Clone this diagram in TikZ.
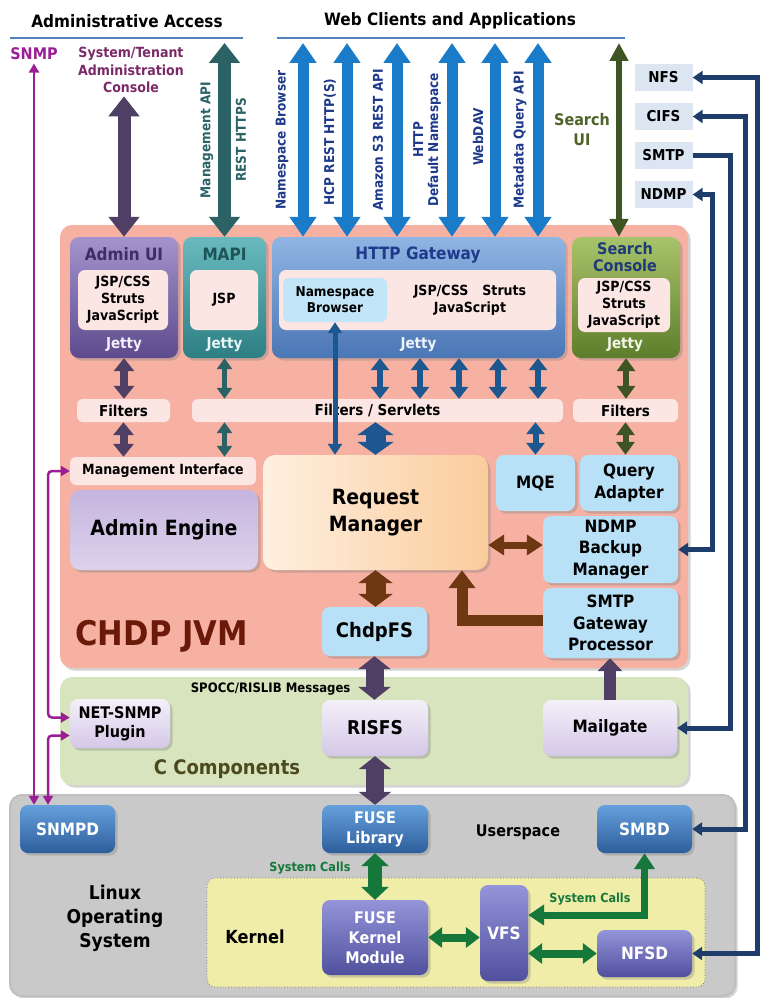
\documentclass[tikz,border=0pt]{standalone}
\usepackage{fontspec}
\setmainfont{DejaVu Sans}[FakeStretch=0.9]
\usepackage{tikz}
\usetikzlibrary{arrows.meta}
\usetikzlibrary{shadows}
\usetikzlibrary{positioning}

\definecolor{jvmfill}{HTML}{F6B1A3}
\definecolor{jvmtext}{HTML}{6B1A0A}
\definecolor{ccfill}{HTML}{D7E4BD}
\definecolor{cctext}{HTML}{4A4A1E}
\definecolor{osfill}{HTML}{C9C9C9}
\definecolor{kernfill}{HTML}{F0EDA9}
\definecolor{pinkfill}{HTML}{FCE6E4}
\definecolor{skyfill}{HTML}{B8E1F7}
\definecolor{nsfill}{HTML}{C2E6F8}
\definecolor{protofill}{HTML}{DCE6F2}
\definecolor{headline}{HTML}{4F81BD}
\definecolor{admpurple}{HTML}{4F3F64}
\definecolor{mapiteal}{HTML}{2A6266}
\definecolor{webblue}{HTML}{1A7CC9}
\definecolor{weblabel}{HTML}{1F3A8A}
\definecolor{searchgreen}{HTML}{3F5423}
\definecolor{searchlabel}{HTML}{4F6228}
\definecolor{gwnavy}{HTML}{1C5790}
\definecolor{rmbrown}{HTML}{6E3812}
\definecolor{protonavy}{HTML}{1F3D6B}
\definecolor{sysgreen}{HTML}{15773A}
\definecolor{snmppurple}{HTML}{9A1E96}
\definecolor{consoletext}{HTML}{7A2A68}
\definecolor{admintop}{HTML}{A493CC}
\definecolor{adminbottom}{HTML}{5D4B8E}
\definecolor{admintitle}{HTML}{3D2F66}
\definecolor{mapitop}{HTML}{68BABE}
\definecolor{mapibottom}{HTML}{2E7F84}
\definecolor{mapititle}{HTML}{1D5457}
\definecolor{httptop}{HTML}{90B5E3}
\definecolor{httpbottom}{HTML}{4A76B5}
\definecolor{httptitle}{HTML}{1F3A8C}
\definecolor{searchtop}{HTML}{A8C46A}
\definecolor{searchbottom}{HTML}{5E7D2B}
\definecolor{searchtitle}{HTML}{1F3A78}
\definecolor{enginetop}{HTML}{C6B5DE}
\definecolor{enginebottom}{HTML}{DCD2EC}
\definecolor{reqlight}{HTML}{FEF0E0}
\definecolor{reqdark}{HTML}{FACC9C}
\definecolor{lilatop}{HTML}{F4F0F9}
\definecolor{lilabottom}{HTML}{D4C8E7}
\definecolor{usertop}{HTML}{64A0DC}
\definecolor{userbottom}{HTML}{2E5E9C}
\definecolor{kerntop}{HTML}{9494DA}
\definecolor{kernbottom}{HTML}{50509E}

\newcommand{\bsize}[2]{\fontsize{#1}{#2}\selectfont\bfseries}

\tikzstyle{headtext} = [font=\bsize{17}{20}]
\tikzstyle{vlabel} = [rotate=90, align=center, font=\bsize{13.5}{15}]
\tikzstyle{bevel} = [drop shadow={shadow xshift=2.5pt, shadow yshift=-2.5pt, opacity=.35}]
\tikzstyle{layer} = [rectangle, rounded corners=12pt, inner sep=0pt, bevel]
\tikzstyle{jettybox} = [rectangle, rounded corners=9pt, inner sep=0pt, bevel]
\tikzstyle{boxtitle} = [font=\bsize{17}{17}, align=center]
\tikzstyle{jettytext} = [font=\bsize{15}{17}]
\tikzstyle{innerbox} = [rectangle, rounded corners=7pt, fill=pinkfill, inner sep=0pt, align=center, font=\bsize{14}{17}]
\tikzstyle{filterbar} = [rectangle, rounded corners=6pt, fill=pinkfill, inner sep=0pt, font=\bsize{15}{17}]
\tikzstyle{skybox} = [rectangle, rounded corners=8pt, fill=skyfill, inner sep=0pt, align=center, font=\bsize{17}{21.5}, bevel]
\tikzstyle{lilabox} = [rectangle, rounded corners=8pt, top color=lilatop, bottom color=lilabottom, inner sep=0pt, align=center, font=\bsize{17}{19}, bevel]
\tikzstyle{userbox} = [rectangle, rounded corners=8pt, top color=usertop, bottom color=userbottom, text=white, inner sep=0pt, align=center, font=\bsize{16}{20}, bevel]
\tikzstyle{kernbox} = [rectangle, rounded corners=8pt, top color=kerntop, bottom color=kernbottom, text=white, inner sep=0pt, align=center, font=\bsize{16}{20}, bevel]
\tikzstyle{protobox} = [rectangle, fill=protofill, minimum width=58pt, minimum height=27pt, font=\bsize{15}{17}]
\tikzstyle{protoboth} = [protonavy, line width=5pt, {Triangle[width=13pt,length=10pt]}-{Triangle[width=13pt,length=10pt]}]
\tikzstyle{protoone} = [protonavy, line width=5pt, -{Triangle[width=13pt,length=10pt]}]
\tikzstyle{snmpline} = [snmppurple, line width=2.5pt, rounded corners=4pt, {Triangle[width=10pt,length=9pt]}-{Triangle[width=10pt,length=9pt]}]
\tikzset{
  dbl/.style n args={3}{line width=#1, {Triangle[width=#2,length=#3]}-{Triangle[width=#2,length=#3]}},
  sgl/.style n args={3}{line width=#1, -{Triangle[width=#2,length=#3]}}
}

\begin{document}
\begin{tikzpicture}[x=1pt, y=-1pt, node distance=39pt]
    \useasboundingbox (0,0) rectangle (760,998);

    % layers
    \node (jvm) [layer, fill=jvmfill, minimum width=628pt, minimum height=443pt] at (374,446.5) {};
    \node (ccomp) [layer, fill=ccfill, minimum width=628pt, minimum height=108pt] at (374,731) {};
    \node (linux) [layer, fill=osfill, draw=black!25, line width=2pt, minimum width=725pt, minimum height=201pt] at (372.5,895.5) {};
    \node (kernel) [rectangle, rounded corners=8pt, fill=kernfill, draw=black!55, dotted, line width=0.8pt, minimum width=498pt, minimum height=109pt] at (456,932.5) {};
    \node (jvmlabel) [font=\bsize{34}{36}, text=jvmtext, anchor=west] at (72,636) {CHDP JVM};
    \node (cclabel) [font=\bsize{20}{22}, text=cctext] at (227,769) {C Components};
    \node (oslabel) [font=\bsize{19}{24}, align=center] at (115,918) {Linux\\Operating\\System};
    \node (userspace) [font=\bsize{16}{18}] at (518,832) {Userspace};
    \node (kernlabel) [font=\bsize{18}{20}] at (255,937) {Kernel};

    % headings
    \node (admaccess) [headtext] at (127,21) {Administrative Access};
    \node (webclients) [headtext] at (450,21) {Web Clients and Applications};
    \draw [headline, line width=2pt] (10,38) -- (243,38);
    \draw [headline, line width=2pt] (277,38) -- (625,38);
    \node (snmp) [font=\bsize{16}{18}, text=snmppurple] at (34,54) {SNMP};
    \node (console) [font=\bsize{14}{17.5}, text=consoletext, align=center] at (131,70) {System/Tenant\\Administration\\Console};
    \node (searchui) [font=\bsize{16}{20}, text=searchlabel, align=center] at (582,130) {Search\\UI};

    % protocol boxes
    \node (nfs) [protobox] at (663.5,77.5) {NFS};
    \node (cifs) [protobox, below of=nfs] {CIFS};
    \node (smtp) [protobox, below of=cifs] {SMTP};
    \node (ndmp) [protobox, below of=smtp] {NDMP};

    % jetty containers
    \node (adminui) [jettybox, top color=admintop, bottom color=adminbottom, minimum width=108pt, minimum height=121pt] at (124,297.5) {};
    \node (adminuititle) [boxtitle, text=admintitle] at (124,254) {Admin UI};
    \node (admininner) [innerbox, minimum width=90pt, minimum height=60pt] at (123,300) {JSP/CSS\\Struts\\JavaScript};
    \node (adminjetty) [jettytext, text=white!85!admintop] at (124,345) {Jetty};

    \node (mapi) [jettybox, top color=mapitop, bottom color=mapibottom, minimum width=83pt, minimum height=121pt] at (224.5,297.5) {};
    \node (mapititle) [boxtitle, text=mapititle] at (224.5,254) {MAPI};
    \node (mapiinner) [innerbox, minimum width=68pt, minimum height=60pt] at (224,300) {JSP};
    \node (mapijetty) [jettytext, text=white!85!mapitop] at (224.5,345) {Jetty};

    \node (http) [jettybox, top color=httptop, bottom color=httpbottom, minimum width=293pt, minimum height=121pt] at (418.5,297.5) {};
    \node (httpgwtitle) [boxtitle, text=httptitle] at (418,255) {HTTP Gateway};
    \node (httpinner) [innerbox, minimum width=277pt, minimum height=60pt] at (417.5,300) {};
    \node (nsbrowser) [rectangle, rounded corners=6pt, fill=nsfill, inner sep=0pt, minimum width=104pt, minimum height=44pt, align=center, font=\bsize{13.5}{16}] at (335,300) {Namespace\\Browser};
    \node (httplibs) [font=\bsize{14}{17}, align=center] at (470,300) {JSP/CSS\quad Struts\\JavaScript};
    \node (httpjetty) [jettytext, text=white!85!httptop] at (418.5,345) {Jetty};

    \node (search) [jettybox, top color=searchtop, bottom color=searchbottom, minimum width=108pt, minimum height=121pt] at (626,297.5) {};
    \node (searchctitle) [font=\bsize{16}{17}, align=center, text=searchtitle] at (625,257) {Search\\Console};
    \node (searchinner) [innerbox, minimum width=92pt, minimum height=54pt] at (624,305) {JSP/CSS\\Struts\\JavaScript};
    \node (searchjetty) [jettytext, text=white!85!searchtop] at (625,345) {Jetty};

    % filters
    \node (filtadmin) [filterbar, minimum width=93pt, minimum height=23pt] at (123.5,410.5) {Filters};
    \node (filtservlet) [filterbar, minimum width=371pt, minimum height=23pt] at (377.5,410.5) {Filters / Servlets};
    \node (filtsearch) [filterbar, minimum width=105pt, minimum height=23pt] at (625.5,410.5) {Filters};

    % jvm components
    \node (mgmt) [filterbar, font=\bsize{14}{16}, minimum width=186pt, minimum height=28pt] at (163,471) {Management Interface};
    \node (adminengine) [rectangle, rounded corners=10pt, top color=enginetop, bottom color=enginebottom, inner sep=0pt, minimum width=188pt, minimum height=80pt, font=\bsize{21}{24}, bevel] at (164,530) {Admin Engine};
    \node (reqmgr) [rectangle, rounded corners=12pt, left color=reqlight, right color=reqdark, inner sep=0pt, minimum width=225pt, minimum height=115pt, align=center, font=\bsize{21}{27}, bevel] at (375.5,512.5) {Request\\Manager};
    \node (mqe) [skybox, minimum width=79pt, minimum height=56pt] at (535.5,483) {MQE};
    \node (qadapter) [skybox, minimum width=98pt, minimum height=56pt] at (629,483) {Query\\Adapter};
    \node (ndmpbm) [skybox, minimum width=135pt, minimum height=67pt] at (610.5,549.5) {NDMP\\Backup\\Manager};
    \node (smtpgw) [skybox, minimum width=135pt, minimum height=70pt] at (610.5,623) {SMTP\\Gateway\\Processor};
    \node (chdpfs) [skybox, font=\bsize{20}{22}, minimum width=105pt, minimum height=49pt] at (374.5,631.5) {ChdpFS};

    % c components
    \node (netsnmp) [lilabox, font=\bsize{16}{19}, minimum width=100pt, minimum height=49pt] at (120,723.5) {NET-SNMP\\Plugin};
    \node (risfs) [lilabox, font=\bsize{19}{21}, minimum width=106pt, minimum height=56pt] at (375,728) {RISFS};
    \node (mailgate) [lilabox, minimum width=134pt, minimum height=56pt] at (610,728) {Mailgate};
    \node (spocc) [font=\bsize{13}{15}, anchor=east] at (354,689) {SPOCC/RISLIB Messages};

    % linux
    \node (snmpd) [userbox, font=\bsize{17}{20}, minimum width=95pt, minimum height=48pt] at (67.5,829) {SNMPD};
    \node (fuselib) [userbox, minimum width=106pt, minimum height=48pt] at (375,829) {FUSE\\Library};
    \node (smbd) [userbox, font=\bsize{17}{20}, minimum width=95pt, minimum height=48pt] at (644.5,829) {SMBD};
    \node (fusekm) [kernbox, minimum width=106pt, minimum height=75pt] at (375,937.5) {FUSE\\Kernel\\Module};
    \node (vfs) [kernbox, font=\bsize{17}{20}, minimum width=48pt, minimum height=96pt] at (504,933) {VFS};
    \node (nfsd) [kernbox, font=\bsize{17}{20}, minimum width=95pt, minimum height=47pt] at (644.5,953.5) {NFSD};
    \node (syscallsa) [font=\bsize{12.5}{14}, text=sysgreen, anchor=east] at (354,868) {System Calls};
    \node (syscallsb) [font=\bsize{12.5}{14}, text=sysgreen] at (590,899) {System Calls};

    % web labels
    \node (lblmgmtapi) [vlabel, text=mapiteal] at (207,140) {Management API};
    \node (lblrest) [vlabel, text=mapiteal] at (241,140) {REST HTTPS};
    \node (lblnsb) [vlabel, text=weblabel] at (282,140) {Namespace Browser};
    \node (lblhcp) [vlabel, text=weblabel] at (330,142) {HCP REST HTTP(S)};
    \node (lbls3) [vlabel, text=weblabel] at (378,140) {Amazon S3 REST API};
    \node (lbldefault) [vlabel, text=weblabel] at (427,140) {HTTP\\Default Namespace};
    \node (lblwebdav) [vlabel, text=weblabel] at (478,137) {WebDAV};
    \node (lblmeta) [vlabel, text=weblabel] at (520,140) {Metadata Query API};

    \coordinate (mapiend) at (224.5,43);
    \coordinate (nsbend) at (303,43);
    \coordinate (hcpend) at (347,43);
    \coordinate (s3end) at (397,43);
    \coordinate (defaultend) at (452,43);
    \coordinate (webdavend) at (495,43);
    \coordinate (metaend) at (538,43);
    \coordinate (searchend) at (619,43);

    % client arrows
    \draw [dbl={13pt}{30pt}{20pt}, admpurple] (adminui.north |- console.south) -- (adminui.north);
    \draw [dbl={13pt}{30pt}{20pt}, mapiteal] (mapiend) -- (mapiend |- mapi.north);
    \draw [dbl={11pt}{26pt}{20pt}, webblue] (nsbend) -- (nsbend |- http.north);
    \draw [dbl={11pt}{26pt}{20pt}, webblue] (hcpend) -- (hcpend |- http.north);
    \draw [dbl={11pt}{26pt}{20pt}, webblue] (s3end) -- (s3end |- http.north);
    \draw [dbl={11pt}{26pt}{20pt}, webblue] (defaultend) -- (defaultend |- http.north);
    \draw [dbl={11pt}{26pt}{20pt}, webblue] (webdavend) -- (webdavend |- http.north);
    \draw [dbl={11pt}{26pt}{20pt}, webblue] (metaend) -- (metaend |- http.north);
    \draw [dbl={6pt}{18pt}{18pt}, searchgreen] (searchend) -- (searchend |- search.north);

    % protocol lines
    \coordinate (nfsturn) at (757,77.5);
    \coordinate (cifsturn) at (745,116.5);
    \coordinate (smtpturn) at (730,155.5);
    \coordinate (ndmpturn) at (712,194.5);
    \draw [protoboth] (nfs.east) -- (nfsturn) |- (nfsd.east);
    \draw [protoboth] (cifs.east) -- (cifsturn) |- (smbd.east);
    \draw [protoone] (smtp.east) -- (smtpturn) |- (mailgate.east);
    \draw [protoboth] (ndmp.east) -- (ndmpturn) |- (ndmpbm.east);

    % snmp lines
    \coordinate (snmpbus) at (48,471);
    \coordinate (netsnmpa) at ([yshift=6pt]netsnmp.west);
    \coordinate (netsnmpb) at ([yshift=-12pt]netsnmp.west);
    \coordinate (snmpdin) at (snmpd.north -| snmpbus);
    \draw [snmpline] (snmp.south) -- (snmp.south |- snmpd.north);
    \draw [snmpline] (mgmt.west) -- (snmpbus) |- (netsnmpa);
    \draw [snmpline] (netsnmpb) -| (snmpdin);

    % inside the jvm
    \draw [dbl={8pt}{20pt}{13pt}, admpurple] (adminui.south) -- (adminui.south |- filtadmin.north);
    \draw [dbl={8pt}{20pt}{13pt}, admpurple] (filtadmin.south) -- (filtadmin.south |- mgmt.north);
    \draw [dbl={5pt}{15pt}{11pt}, mapiteal] (mapi.south) -- (mapi.south |- filtservlet.north);
    \draw [dbl={5pt}{15pt}{11pt}, mapiteal] (mapi.south |- filtservlet.south) -- (mapi.south |- mgmt.north);
    \draw [dbl={6pt}{18pt}{12pt}, gwnavy] ([xshift=-38.5pt]http.south) -- ([xshift=-38.5pt]filtservlet.north -| http.south);
    \draw [dbl={6pt}{18pt}{12pt}, gwnavy] ([xshift=1.5pt]http.south) -- ([xshift=1.5pt]filtservlet.north -| http.south);
    \draw [dbl={6pt}{18pt}{12pt}, gwnavy] ([xshift=40.5pt]http.south) -- ([xshift=40.5pt]filtservlet.north -| http.south);
    \draw [dbl={6pt}{18pt}{12pt}, gwnavy] ([xshift=79.5pt]http.south) -- ([xshift=79.5pt]filtservlet.north -| http.south);
    \draw [dbl={6pt}{18pt}{12pt}, gwnavy] ([xshift=119.5pt]http.south) -- ([xshift=119.5pt]filtservlet.north -| http.south);
    \draw [dbl={5pt}{14pt}{11pt}, gwnavy] (nsbrowser.south) -- (nsbrowser.south |- reqmgr.north);
    \draw [dbl={20pt}{36pt}{13pt}, gwnavy] (reqmgr.north |- filtservlet.south) -- (reqmgr.north);
    \draw [dbl={6pt}{18pt}{12pt}, gwnavy] (mqe.north |- filtservlet.south) -- (mqe.north);
    \draw [dbl={6pt}{18pt}{13pt}, searchgreen] (search.south) -- (search.south |- filtsearch.north);
    \draw [dbl={6pt}{18pt}{13pt}, searchgreen] (filtsearch.south) -- (filtsearch.south |- qadapter.north);

    \coordinate (bmport) at ([yshift=4.5pt]ndmpbm.west);
    \coordinate (gwport) at ([yshift=3pt]smtpgw.west);
    \coordinate (rmport) at ([xshift=86.5pt]reqmgr.south);
    \draw [dbl={7pt}{20pt}{16pt}, rmbrown] (bmport) -- (bmport -| reqmgr.east);
    \draw [dbl={20pt}{34pt}{13pt}, rmbrown] (reqmgr.south) -- (reqmgr.south |- chdpfs.north);
    \draw [sgl={11pt}{26pt}{18pt}, rmbrown] (gwport) -| (rmport);

    % below the jvm
    \draw [dbl={18pt}{32pt}{13pt}, admpurple] (chdpfs.south) -- (chdpfs.south |- risfs.north);
    \draw [dbl={18pt}{32pt}{13pt}, admpurple] (risfs.south) -- (risfs.south |- fuselib.north);
    \draw [sgl={12pt}{24pt}{13pt}, admpurple] (mailgate.north) -- (mailgate.north |- smtpgw.south);

    \coordinate (vfsport) at ([yshift=18pt]vfs.east);
    \draw [dbl={14pt}{27pt}{13pt}, sysgreen] (fuselib.south) -- (fuselib.south |- fusekm.north);
    \draw [dbl={8pt}{20pt}{14pt}, sysgreen] (fusekm.east) -- (fusekm.east -| vfs.west);
    \draw [dbl={8pt}{20pt}{14pt}, sysgreen] (nfsd.west) -- (nfsd.west -| vfs.east);
    \draw [dbl={7pt}{20pt}{16pt}, sysgreen] (vfsport) -| (smbd.south);
\end{tikzpicture}
\end{document}
